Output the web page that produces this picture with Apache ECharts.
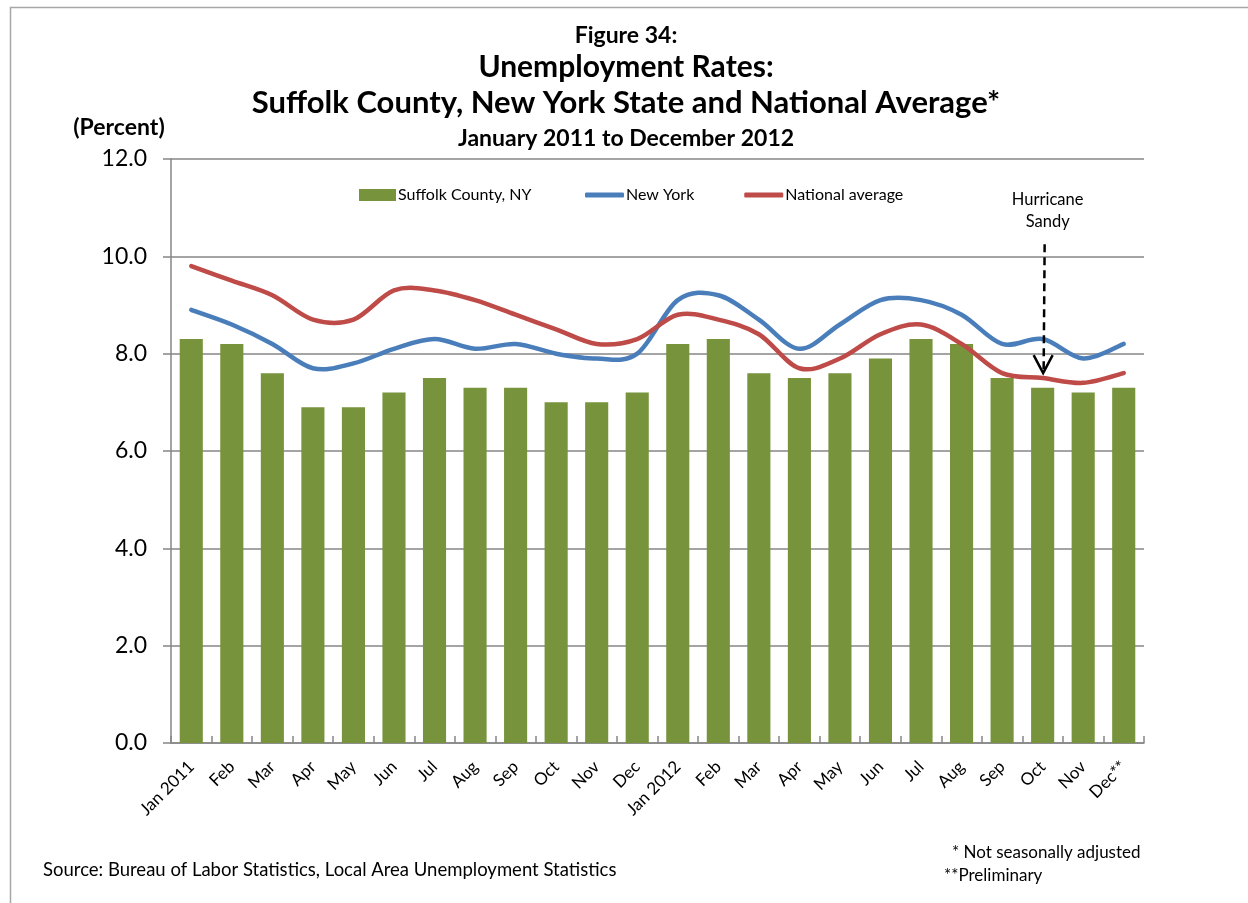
<!DOCTYPE html>
<html>
<head>
<meta charset="utf-8">
<script src="https://cdn.jsdelivr.net/npm/echarts@6/dist/echarts.min.js"></script>
<style>
  html, body { margin: 0; padding: 0; background: #fff; }
  #chart { width: 1248px; height: 903px; }
</style>
</head>
<body>
<div id="chart"></div>
<script>
// Monthly unemployment rates (percent), January 2011 – December 2012
const categories = ['Jan 2011', 'Feb', 'Mar', 'Apr', 'May', 'Jun', 'Jul', 'Aug', 'Sep', 'Oct', 'Nov', 'Dec',
                    'Jan 2012', 'Feb', 'Mar', 'Apr', 'May', 'Jun', 'Jul', 'Aug', 'Sep', 'Oct', 'Nov', 'Dec**'];
const suffolk  = [8.3, 8.2, 7.6, 6.9, 6.9, 7.2, 7.5, 7.3, 7.3, 7.0, 7.0, 7.2,
                  8.2, 8.3, 7.6, 7.5, 7.6, 7.9, 8.3, 8.2, 7.5, 7.3, 7.2, 7.3];
const newYork  = [8.9, 8.6, 8.2, 7.7, 7.8, 8.1, 8.3, 8.1, 8.2, 8.0, 7.9, 8.0,
                  9.1, 9.2, 8.7, 8.1, 8.6, 9.1, 9.1, 8.8, 8.2, 8.3, 7.9, 8.2];
const national = [9.8, 9.5, 9.2, 8.7, 8.7, 9.3, 9.3, 9.1, 8.8, 8.5, 8.2, 8.3,
                  8.8, 8.7, 8.4, 7.7, 7.9, 8.4, 8.6, 8.2, 7.6, 7.5, 7.4, 7.6];
const yTicks = { min: 0, max: 12, interval: 2 };
const seriesNames = ['Suffolk County, NY', 'New York', 'National average'];
const sandyIndex = 21; // Oct 2012

const FONT = 'Lato, "Liberation Sans", sans-serif';
const COLORS = { bar: '#77933C', ny: '#4A7EBB', us: '#BE4B48', grid: '#868686' };
const chart = echarts.init(document.getElementById('chart'), null, { renderer: 'canvas' });

const titleLines = [
  { text: 'Figure 34:', y: 36, size: 23 },
  { text: 'Unemployment Rates:', y: 67, size: 30 },
  { text: 'Suffolk County, New York State and National Average*', y: 103, size: 31 },
  { text: 'January 2011 to December 2012', y: 139, size: 23 }
];

// Smoothed line through every data point (cardinal spline, tension 1/6),
// built as one path from the axis coordinates of the values.
function smoothLineSeries(name, values, color) {
  return {
    name, type: 'custom',
    data: values.map((v, i) => [i, v]),
    encode: { x: 0, y: 1 },
    itemStyle: { color },
    z: 3,
    renderItem: (params, api) => {
      if (params.dataIndex !== 0) return { type: 'group', children: [] };
      const pts = values.map((v, i) => api.coord([i, v]));
      const n = pts.length;
      const P = k => pts[Math.max(0, Math.min(n - 1, k))];
      let d = 'M' + pts[0][0] + ' ' + pts[0][1];
      for (let i = 0; i < n - 1; i++) {
        const p0 = P(i - 1), p1 = P(i), p2 = P(i + 1), p3 = P(i + 2);
        const c1x = p1[0] + (p2[0] - p0[0]) / 6, c1y = p1[1] + (p2[1] - p0[1]) / 6;
        const c2x = p2[0] - (p3[0] - p1[0]) / 6, c2y = p2[1] - (p3[1] - p1[1]) / 6;
        d += ' C' + c1x + ' ' + c1y + ' ' + c2x + ' ' + c2y + ' ' + p2[0] + ' ' + p2[1];
      }
      return {
        type: 'path',
        shape: { pathData: d },
        style: { stroke: color, lineWidth: 4.5, fill: 'none', lineCap: 'round', lineJoin: 'round' }
      };
    }
  };
}

function buildGraphics(sandy) {
  const g = [];
  g.push({ type: 'rect', left: 8, top: 5, shape: { x: 0, y: 0, width: 1300, height: 960 },
           style: { fill: 'none', stroke: '#a6a6a6', lineWidth: 1.5 }, silent: true, z: 0 });
  titleLines.forEach(t => g.push({
    type: 'text', x: 626, y: t.y,
    style: { text: t.text, font: 'bold ' + t.size + 'px ' + FONT, fill: '#000', align: 'center', verticalAlign: 'middle' }
  }));
  g.push({ type: 'text', x: 119, y: 128,
    style: { text: '(Percent)', font: 'bold 23px ' + FONT, fill: '#000', align: 'center', verticalAlign: 'middle' } });
  g.push({ type: 'text', x: 43, y: 870,
    style: { text: 'Source: Bureau of Labor Statistics, Local Area Unemployment Statistics', font: '18.5px ' + FONT, fill: '#000', align: 'left', verticalAlign: 'middle' } });
  g.push({ type: 'text', x: 952, y: 853,
    style: { text: '* Not seasonally adjusted', font: '17px ' + FONT, fill: '#000', align: 'left', verticalAlign: 'middle' } });
  g.push({ type: 'text', x: 944, y: 876,
    style: { text: '**Preliminary', font: '17px ' + FONT, fill: '#000', align: 'left', verticalAlign: 'middle' } });
  if (sandy) {
    const { ax, topY, tipY } = sandy;
    g.push({ type: 'text', x: ax + 3, y: 200,
      style: { text: 'Hurricane', font: '16.5px ' + FONT, fill: '#000', align: 'center', verticalAlign: 'middle' } });
    g.push({ type: 'text', x: ax + 3, y: 222,
      style: { text: 'Sandy', font: '16.5px ' + FONT, fill: '#000', align: 'center', verticalAlign: 'middle' } });
    g.push({ type: 'line', shape: { x1: ax, y1: topY, x2: ax - 1, y2: tipY - 3 },
      style: { stroke: '#000', lineWidth: 2.5, lineDash: [8, 5] }, z: 10 });
    g.push({ type: 'polyline', shape: { points: [[ax - 11, tipY - 18], [ax - 1.5, tipY], [ax + 8, tipY - 18]] },
      style: { stroke: '#000', lineWidth: 2.5, fill: 'none' }, z: 10 });
  }
  return g;
}

const legendText = { fontSize: 16, color: '#000', fontFamily: FONT, padding: [0, 0, 0, -3] };

chart.setOption({
  animation: false,
  backgroundColor: '#fff',
  textStyle: { fontFamily: FONT },
  grid: { left: 171, right: 104, top: 159, bottom: 160, containLabel: false },
  legend: [
    {
      left: 354, top: 182,
      itemWidth: 37, itemHeight: 12,
      textStyle: legendText,
      data: [{ name: seriesNames[0], icon: 'rect' }]
    },
    {
      left: 580, top: 182,
      itemWidth: 39, itemHeight: 5, itemGap: 50,
      textStyle: legendText,
      data: [{ name: seriesNames[1], icon: 'roundRect' }, { name: seriesNames[2], icon: 'roundRect' }]
    }
  ],
  xAxis: {
    type: 'category',
    data: categories,
    boundaryGap: true,
    axisLine: { lineStyle: { color: COLORS.grid, width: 1.5 } },
    axisTick: { show: true, inside: true, length: 7, lineStyle: { color: COLORS.grid, width: 1.5 } },
    axisLabel: { rotate: 45, interval: 0, margin: 21, fontSize: 17, color: '#000', fontFamily: FONT },
    splitLine: { show: false }
  },
  yAxis: {
    type: 'value',
    min: yTicks.min, max: yTicks.max, interval: yTicks.interval,
    axisLine: { show: true, lineStyle: { color: COLORS.grid, width: 1.5 } },
    axisTick: { show: true, length: 8, lineStyle: { color: COLORS.grid, width: 1.5 } },
    axisLabel: { fontSize: 23, color: '#000', margin: 24, fontFamily: FONT, formatter: v => v.toFixed(1) },
    splitLine: { show: true, lineStyle: { color: COLORS.grid, width: 1.5 } }
  },
  series: [
    {
      name: seriesNames[0], type: 'bar', data: suffolk,
      barWidth: '57%',
      itemStyle: { color: COLORS.bar }, z: 2
    },
    smoothLineSeries(seriesNames[1], newYork, COLORS.ny),
    smoothLineSeries(seriesNames[2], national, COLORS.us)
  ],
  graphic: buildGraphics(null)
});

// Hurricane Sandy annotation, placed over the October 2012 category
const tip = chart.convertToPixel({ gridIndex: 0 }, [sandyIndex, national[sandyIndex] + 0.1]);
const topPt = chart.convertToPixel({ gridIndex: 0 }, [sandyIndex, 10.25]);
chart.setOption({ graphic: buildGraphics({ ax: tip[0] + 2, topY: topPt[1], tipY: tip[1] }) },
                { replaceMerge: ['graphic'] });
</script>
</body>
</html>
